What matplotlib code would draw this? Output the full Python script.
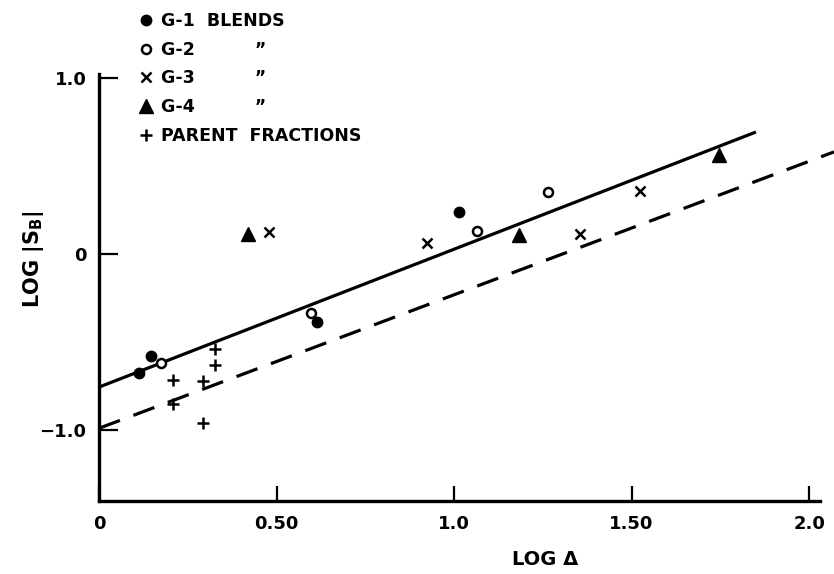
import numpy as np
import matplotlib
matplotlib.use("Agg")
import matplotlib.pyplot as plt

plt.rcParams['font.family'] = ['DejaVu Sans']
plt.rcParams['font.weight'] = 'bold'

# log(delta) vs log|S_B| for the four blend series and the parent fractions
g1_x = [0.113, 0.146, 0.614, 1.014]
g1_y = [-0.676, -0.580, -0.386, 0.239]

g2_x = [0.175, 0.597, 1.065, 1.265]
g2_y = [-0.620, -0.335, 0.130, 0.352]

g3_x = [0.479, 0.924, 1.355, 1.524]
g3_y = [0.125, 0.063, 0.114, 0.358]

g4_x = [0.420, 1.183, 1.746]
g4_y = [0.114, 0.108, 0.562]

parent_x = [0.208, 0.208, 0.293, 0.293, 0.327, 0.327]
parent_y = [-0.716, -0.850, -0.720, -0.960, -0.540, -0.630]

# fitted line (solid) and reference line (dashed)
fit_x = [0.0, 1.85]
fit_y = [-0.756, 0.693]
ref_x = [0.0, 2.07]
ref_y = [-0.990, 0.580]

x_ticks = [0, 0.5, 1.0, 1.5, 2.0]
x_ticklabels = ['0', '0.50', '1.0', '1.50', '2.0']
y_ticks = [-1.0, 0, 1.0]
y_ticklabels = ['\u22121.0', '0', '1.0']

legend_labels = ['G-1  BLENDS', 'G-2          \u201d', 'G-3          \u201d',
                 'G-4          \u201d', 'PARENT  FRACTIONS']

fig = plt.figure(figsize=(8.34, 5.74), dpi=100)
ax = fig.add_axes([0.1187, 0.1272, 0.8813, 0.8728])

ax.plot(fit_x, fit_y, color='black', lw=2.3, solid_capstyle='butt', zorder=1)
ax.plot(ref_x, ref_y, color='black', lw=2.3, dashes=(7, 4.5), zorder=1)

h1, = ax.plot(g1_x, g1_y, 'o', ms=7.5, color='black', ls='none')
h2, = ax.plot(g2_x, g2_y, 'o', ms=6.5, mfc='white', mec='black', mew=1.8, ls='none')
h3, = ax.plot(g3_x, g3_y, 'x', ms=7.5, color='black', mew=1.8, ls='none')
h4, = ax.plot(g4_x, g4_y, '^', ms=10, color='black', ls='none')
h5, = ax.plot(parent_x, parent_y, '+', ms=9, color='black', mew=1.8, ls='none')

leg = ax.legend([h1, h2, h3, h4, h5], legend_labels, loc='upper left',
                bbox_to_anchor=(0.045, 0.99), frameon=False, fontsize=12.5,
                handlelength=0.8, handletextpad=0.45, labelspacing=0.62,
                borderaxespad=0, numpoints=1)

ax.set_xlim(0, 2.07)
ax.set_ylim(-1.403, 1.443)

for s in ['top', 'right']:
    ax.spines[s].set_visible(False)
ax.spines['left'].set_linewidth(2.4)
ax.spines['bottom'].set_linewidth(2.4)
ax.spines['left'].set_bounds(-1.403, 1.02)
ax.spines['bottom'].set_bounds(0, 2.03)

ax.set_xticks(x_ticks)
ax.set_xticklabels(x_ticklabels, fontsize=13, fontweight='bold')
ax.set_yticks(y_ticks)
ax.set_yticklabels(y_ticklabels, fontsize=13, fontweight='bold')
ax.tick_params(axis='x', direction='in', length=11, width=1.6, pad=10)
ax.tick_params(axis='y', direction='in', length=14, width=1.6, pad=9)

ax.set_xlabel('LOG \u0394', fontsize=14, fontweight='bold')
ax.xaxis.set_label_coords(0.607, -0.097)
ax.set_ylabel(r'LOG |S$_{\mathbf{B}}$|', fontsize=15, fontweight='bold')
ax.yaxis.set_label_coords(-0.072, 0.483)

fig.savefig('out.png', dpi=100)
